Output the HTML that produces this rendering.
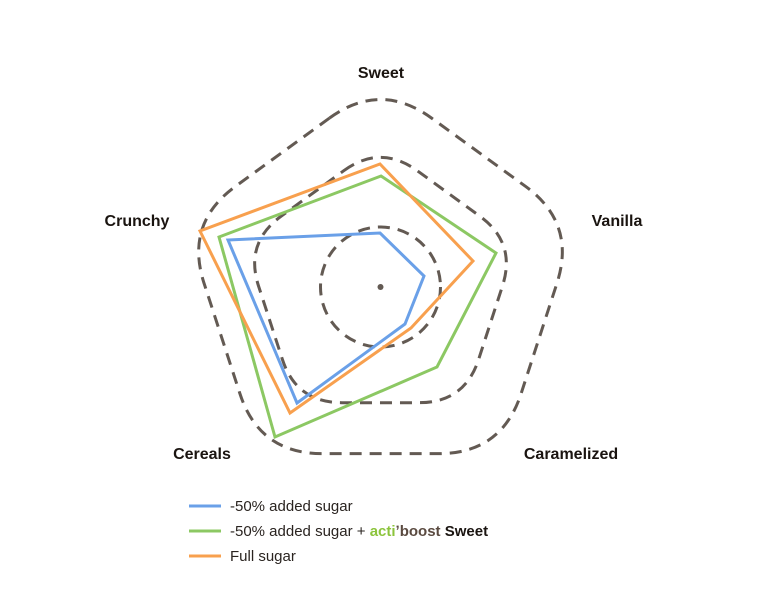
<!DOCTYPE html>
<html><head><meta charset="utf-8"><style>
body{margin:0;background:#fff;width:773px;height:609px;overflow:hidden}
svg{display:block}
text{font-family:"Liberation Sans",sans-serif}
</style></head><body>
<svg id="s" width="773" height="609" viewBox="0 0 773 609">
<g stroke="#635a53" stroke-width="3" fill="none" stroke-dasharray="12 8">
<path id="p1"/><path id="p2"/>
<circle cx="380.5" cy="287" r="60"/>
</g>
<circle cx="380.5" cy="287" r="3" fill="#635a53"/>
<g fill="none" stroke-width="3" stroke-linejoin="miter">
<polygon stroke="#6aa0e8" points="380,233 424,276 405,324 297,403 228,240"/>
<polygon stroke="#8cc863" points="381,176 496,253 437,367 275,437 219,237"/>
<polygon stroke="#f8a04e" points="380,164 473,261 411,328 290,413 200,231"/>
</g>
<g font-weight="bold" font-size="16" fill="#1a1410" text-anchor="middle">
<text x="381" y="78">Sweet</text>
<text x="617" y="226">Vanilla</text>
<text x="571" y="459">Caramelized</text>
<text x="202" y="459">Cereals</text>
<text x="137" y="226">Crunchy</text>
</g>
<g stroke-width="3">
<line x1="189" y1="506" x2="221" y2="506" stroke="#6aa0e8"/>
<line x1="189" y1="531" x2="221" y2="531" stroke="#8cc863"/>
<line x1="189" y1="556" x2="221" y2="556" stroke="#f8a04e"/>
</g>
<g font-size="15" fill="#2a2420">
<text x="230" y="511">-50% added sugar</text>
<text x="230" y="536">-50% added sugar + <tspan fill="#8cc43c" font-weight="bold">acti</tspan><tspan fill="#5a4a40" font-weight="bold">ʼboost</tspan> <tspan font-weight="bold" fill="#1a1410">Sweet</tspan></text>
<text x="230" y="561">Full sugar</text>
</g>
</svg>
<script>
function rp(R,f){var cx=380.5,cy=287,v=[];for(var i=0;i<5;i++){var a=-Math.PI/2+i*2*Math.PI/5;v.push([cx+R*Math.cos(a),cy+R*Math.sin(a)]);}
var d="";for(var i=0;i<5;i++){var p=v[(i+4)%5],c=v[i],n=v[(i+1)%5];
var a=[c[0]+(p[0]-c[0])*f,c[1]+(p[1]-c[1])*f],b=[c[0]+(n[0]-c[0])*f,c[1]+(n[1]-c[1])*f];
d+=(i?"L":"M")+a[0]+" "+a[1]+"Q"+c[0]+" "+c[1]+" "+b[0]+" "+b[1];}return d+"Z";}
document.getElementById("p1").setAttribute("d",rp(206,0.26));
document.getElementById("p2").setAttribute("d",rp(143,0.27));
</script>
</body></html>
